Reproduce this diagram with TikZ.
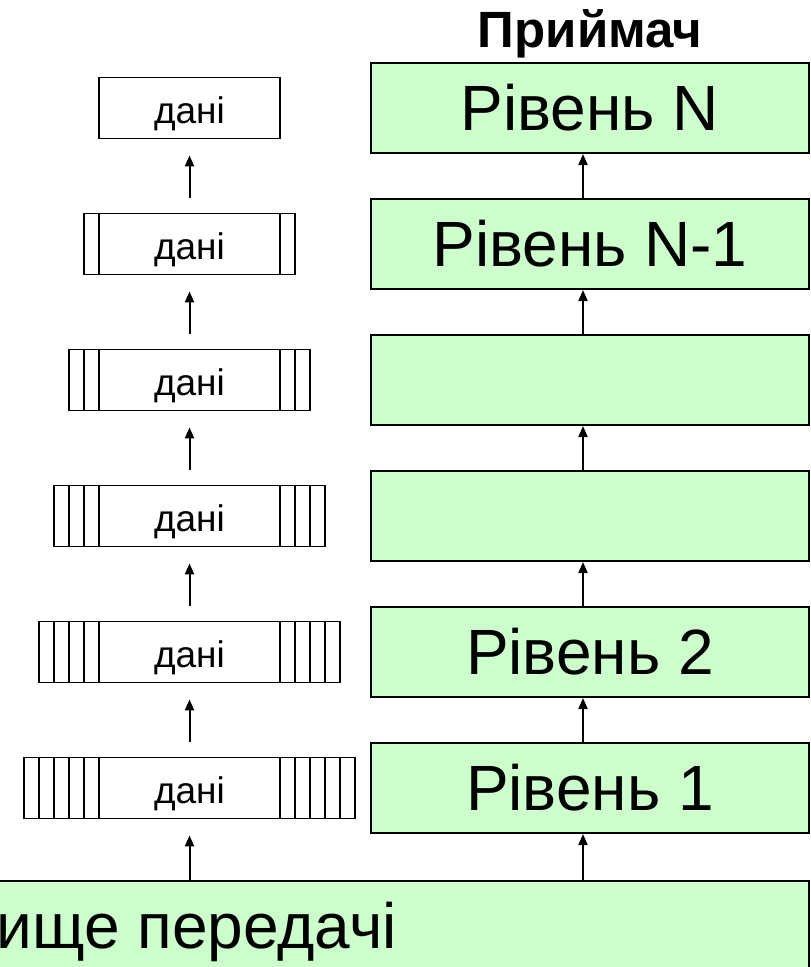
\documentclass[tikz,border=0pt]{standalone}
\usepackage{fontspec}
\setmainfont{Liberation Sans}
\usetikzlibrary{arrows.meta}
\definecolor{layergreen}{RGB}{204,255,204}
\tikzset{
  layer/.style={draw=black, line width=2pt, fill=layergreen, minimum width=438pt,
    minimum height=90pt, inner sep=0pt, font=\fontsize{64}{70}\selectfont},
  packet/.style={draw=black, line width=1.8pt, fill=white, minimum height=61pt,
    inner sep=0pt, text height=31pt, text depth=0pt, font=\fontsize{37}{40}\selectfont},
  hdr/.style={line width=1.8pt},
  flow/.style={line width=2pt, -{Triangle[length=11pt,width=9pt]}},
}
\begin{document}
\begin{tikzpicture}[x=1pt,y=-1pt]
\useasboundingbox (0,0) rectangle (811,967);
\clip (0,0) rectangle (811,967);

% receiver title
\node[font=\bfseries\fontsize{51}{56}\selectfont, anchor=base, inner sep=0pt] (title) at (590,47) {Приймач};

% receiver layers
\node[layer] (r1) at (590,108) {Рівень N};
\node[layer] (r2) at (590,244) {Рівень N-1};
\node[layer] (r3) at (590,380) {};
\node[layer] (r4) at (590,516) {};
\node[layer] (r5) at (590,652) {Рівень 2};
\node[layer] (r6) at (590,788) {Рівень 1};

% transmission medium (runs off the left edge)
\node[draw=black, line width=2pt, fill=layergreen, anchor=north east,
  minimum width=900pt, minimum height=120pt] (m) at (810,880) {};
\node[anchor=base east, font=\fontsize{64}{70}\selectfont, inner sep=0pt] (mt) at (397,948) {Середовище передачі};

% packets: data with headers and trailers
\foreach \i/\c in {1/108,2/244,3/380,4/516,5/652,6/788} {
  \pgfmathsetmacro\w{181+30*(\i-1)}
  \node[packet, minimum width=\w pt] (p\i) at (189.5,\c) {дані};
}
\foreach \i/\c in {2/244,3/380,4/516,5/652,6/788} {
  \pgfmathtruncatemacro\n{\i-2}
  \foreach \k in {0,...,\n} {
    \draw[hdr] ({99-15*\k},{\c-30.5}) -- ({99-15*\k},{\c+30.5});
    \draw[hdr] ({280+15*\k},{\c-30.5}) -- ({280+15*\k},{\c+30.5});
  }
}

% upward arrows in both columns
\coordinate (ax) at (583,0);
\foreach \i/\j in {1/2,2/3,3/4,4/5,5/6} {
  \draw[flow] (r\j.north -| ax) -- (r\i.south -| ax);
  \draw[flow] ([yshift=15pt]p\j.north) -- ([yshift=-16pt]p\i.south);
}
\draw[flow] (m.north -| ax) -- (r6.south -| ax);
\draw[flow] (m.north -| p6.south) -- ([yshift=-16pt]p6.south);
\end{tikzpicture}
\end{document}
